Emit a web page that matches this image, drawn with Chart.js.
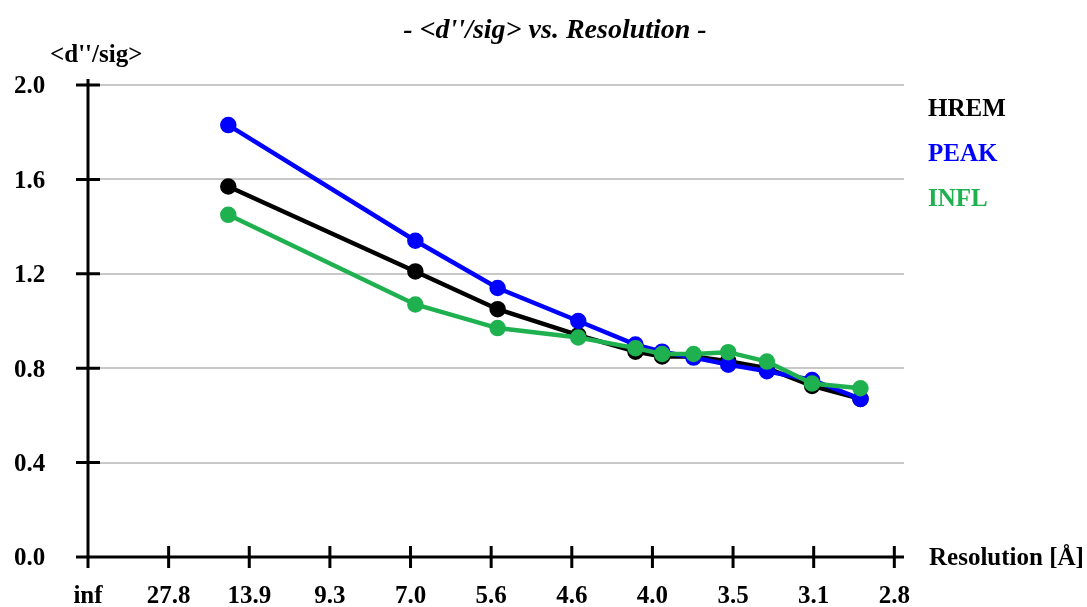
<!DOCTYPE html>
<html>
<head>
<meta charset="utf-8">
<script src="https://cdn.jsdelivr.net/npm/chart.js@4.4.1/dist/chart.umd.min.js"></script>
<style>
    html, body { margin: 0; padding: 0; background: #fff; }
    canvas { display: block; }
</style>
</head>
<body>
<canvas id="chart" width="1087" height="607"></canvas>
<script>
// resolution shells, in x-axis tick units (one unit per labelled tick, linear in 1/d)
const shellPos = [1.74, 4.06, 5.08, 6.08, 6.79, 7.12, 7.51, 7.94, 8.42, 8.98, 9.58];

const hrem = [1.57, 1.21, 1.05, 0.94, 0.87, 0.85, 0.85, 0.83, 0.80, 0.725, 0.67];
const peak = [1.83, 1.34, 1.14, 1.00, 0.90, 0.87, 0.845, 0.815, 0.787, 0.75, 0.67];
const infl = [1.45, 1.07, 0.97, 0.93, 0.885, 0.86, 0.86, 0.868, 0.828, 0.735, 0.715];

const resLabels = ["inf", "27.8", "13.9", "9.3", "7.0", "5.6", "4.6", "4.0", "3.5", "3.1", "2.8"];
const yTicks = [0, 0.4, 0.8, 1.2, 1.6, 2.0];

const FONT = "'Liberation Serif', 'Times New Roman', serif";

function series(values) {
    return values.map((v, i) => ({ x: shellPos[i], y: v }));
}

// axes with crossing tick marks plus the free text around the plot
const decor = {
    id: "decor",
    beforeDatasetsDraw(chart) {
        const { ctx, chartArea: a, scales: { x, y } } = chart;
        ctx.save();
        ctx.strokeStyle = "#000";
        ctx.lineWidth = 3;
        ctx.beginPath();
        ctx.moveTo(a.left, a.top - 6);
        ctx.lineTo(a.left, a.bottom);
        ctx.moveTo(a.left - 12, a.bottom);
        ctx.lineTo(a.right, a.bottom);
        yTicks.forEach(v => {
            const py = y.getPixelForValue(v);
            ctx.moveTo(a.left - 12, py);
            ctx.lineTo(a.left + 12, py);
        });
        resLabels.forEach((l, i) => {
            const px = x.getPixelForValue(i);
            ctx.moveTo(px, a.bottom - 11);
            ctx.lineTo(px, a.bottom + 11);
        });
        ctx.stroke();
        ctx.restore();
    },
    afterDraw(chart) {
        const { ctx, chartArea: a } = chart;
        ctx.save();
        ctx.textBaseline = "middle";

        ctx.fillStyle = "#000";
        ctx.textAlign = "center";
        ctx.font = "italic bold 28px " + FONT;
        ctx.fillText("- <d''/sig> vs. Resolution -", 555, 31);

        ctx.textAlign = "left";
        ctx.font = "bold 25px " + FONT;
        ctx.fillText("<d''/sig>", 50, 56);
        ctx.fillText("Resolution [Å]", 929, a.bottom + 2);

        chart.data.datasets.forEach((ds, i) => {
            ctx.fillStyle = ds.borderColor;
            ctx.fillText(ds.label, 928, 110 + i * 45);
        });
        ctx.restore();
    }
};

const lineStyle = { borderWidth: 4.5, pointRadius: 6, pointHoverRadius: 6, tension: 0 };

new Chart(document.getElementById("chart"), {
    type: "line",
    data: {
        datasets: [
            { label: "HREM", data: series(hrem), borderColor: "#000000", backgroundColor: "#000000", order: 3, ...lineStyle },
            { label: "PEAK", data: series(peak), borderColor: "#0000ff", backgroundColor: "#0000ff", order: 2, ...lineStyle },
            { label: "INFL", data: series(infl), borderColor: "#1fb14f", backgroundColor: "#1fb14f", order: 1, ...lineStyle }
        ]
    },
    options: {
        responsive: false,
        animation: false,
        devicePixelRatio: 1,
        layout: { padding: { left: 14, right: 183, top: 85, bottom: 0 } },
        plugins: {
            legend: { display: false },
            title: { display: false },
            tooltip: { enabled: false }
        },
        scales: {
            x: {
                type: "linear",
                min: 0,
                max: 10.12,
                afterBuildTicks: scale => {
                    scale.ticks = resLabels.map((l, i) => ({ value: i }));
                },
                afterFit: scale => { scale.height = 50; },
                grid: { display: false, drawTicks: false },
                border: { display: false },
                ticks: {
                    autoSkip: false,
                    maxRotation: 0,
                    padding: 25,
                    color: "#000",
                    font: { family: FONT, size: 25, weight: "bold" },
                    callback: value => resLabels[value]
                }
            },
            y: {
                min: 0,
                max: 2.0,
                afterBuildTicks: scale => {
                    scale.ticks = yTicks.map(v => ({ value: v }));
                },
                afterFit: scale => { scale.width = 74; },
                grid: { color: "#c8c8c8", lineWidth: 2, drawTicks: false },
                border: { display: false },
                ticks: {
                    padding: 0,
                    crossAlign: "far",
                    labelOffset: 2,
                    color: "#000",
                    font: { family: FONT, size: 25, weight: "bold" },
                    callback: value => value.toFixed(1)
                }
            }
        }
    },
    plugins: [decor]
});
</script>
</body>
</html>
